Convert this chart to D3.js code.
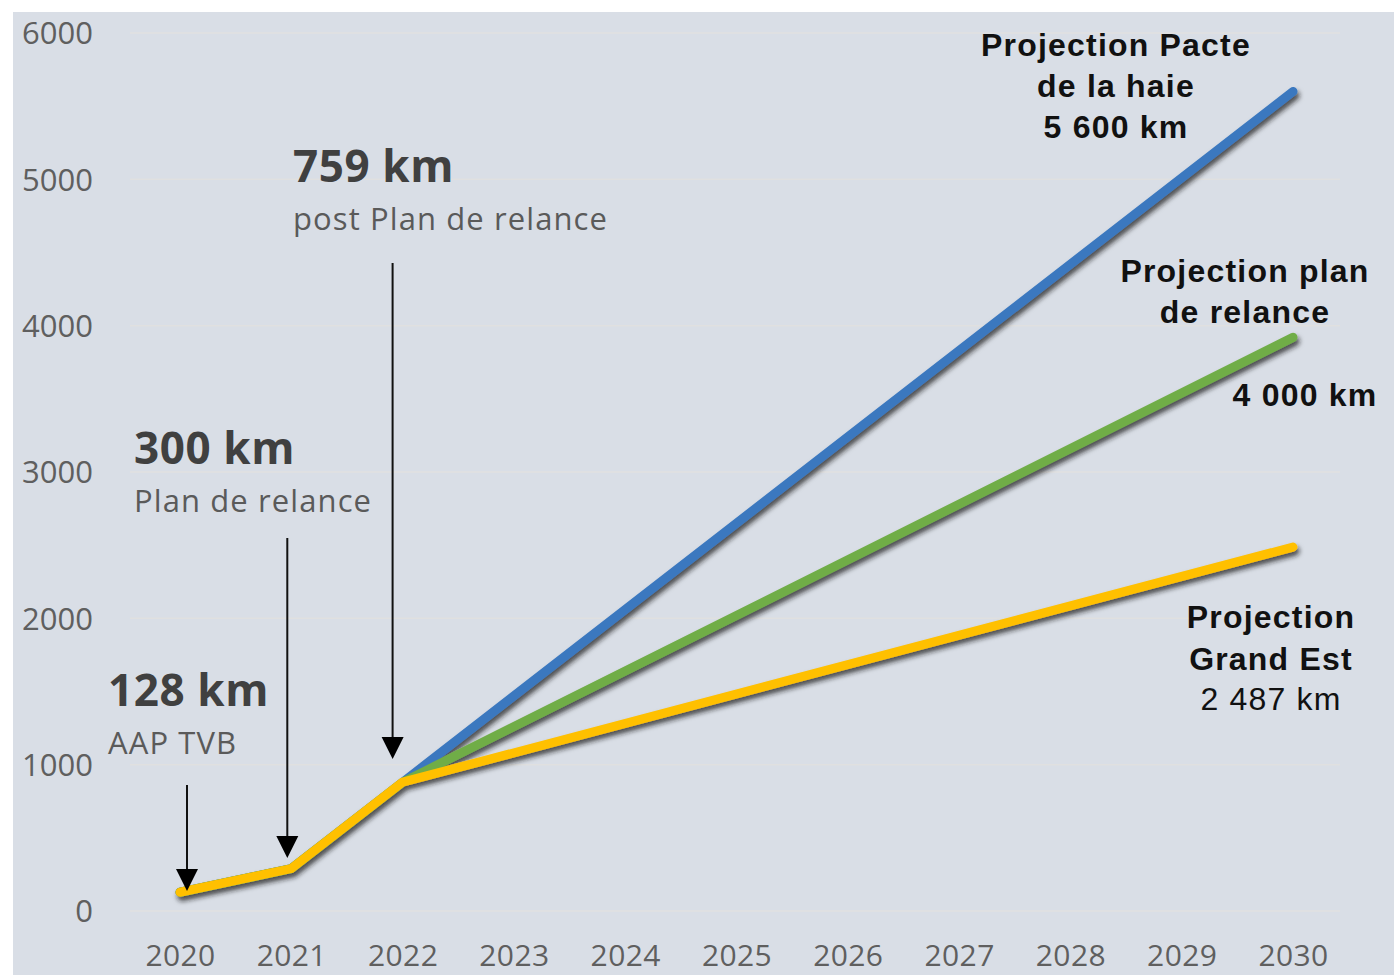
<!DOCTYPE html>
<html>
<head>
<meta charset="utf-8">
<script src="https://cdn.jsdelivr.net/npm/d3@7"></script>
<style>
  html, body { margin: 0; padding: 0; background: #ffffff; }
  svg { display: block; }
</style>
</head>
<body>
<svg id="chart" width="1394" height="975"></svg>
<script>
// ---- data ----
const years = [2020, 2021, 2022, 2023, 2024, 2025, 2026, 2027, 2028, 2029, 2030];
const yTicks = [0, 1000, 2000, 3000, 4000, 5000, 6000];
const realisedYears = [2020, 2021, 2022];
const realisedKm = [128, 290, 880];
const projectionEndYear = 2030;
const pacteEndKm = 5600;
const relanceEndKm = 3920;
const grandEstEndKm = 2487;
const seriesNames = ["Projection Pacte de la haie", "Projection plan de relance", "Projection Grand Est"];
const seriesColors = ["#3b78bf", "#70ad47", "#ffc000"];

// build series from the named arrays
const realised = realisedYears.map((y, i) => ({ year: y, km: realisedKm[i] }));
const series = [
  { name: seriesNames[0], color: seriesColors[0], points: realised.concat([{ year: projectionEndYear, km: pacteEndKm }]) },
  { name: seriesNames[1], color: seriesColors[1], points: realised.concat([{ year: projectionEndYear, km: relanceEndKm }]) },
  { name: seriesNames[2], color: seriesColors[2], points: realised.concat([{ year: projectionEndYear, km: grandEstEndKm }]) }
];

// annotations
const arrowAnnots = [
  { year: 2020, dx: 7, top: 785, tip: 891, big: "128 km", small: "AAP TVB", tx: 108, ty1: 706, ty2: 754 },
  { year: 2021, dx: -4, top: 538, tip: 858, big: "300 km", small: "Plan de relance", tx: 134, ty1: 464, ty2: 512 },
  { year: 2022, dx: -10, top: 263, tip: 759, big: "759 km", small: "post Plan de relance", tx: 293, ty1: 182, ty2: 230 }
];

const svg = d3.select("#chart");
const W = 1394, H = 975;

// background panel
svg.append("rect").attr("x", 0).attr("y", 0).attr("width", W).attr("height", H).attr("fill", "#ffffff");
svg.append("rect").attr("x", 13).attr("y", 12).attr("width", W - 13).attr("height", H - 12).attr("fill", "#d9dee6");

const x = d3.scaleLinear().domain([2020, 2030]).range([180, 1293]);
const y = d3.scaleLinear().domain([0, 6000]).range([911, 33]);

const defs = svg.append("defs");
const f = defs.append("filter").attr("id", "shadow").attr("x", "-10%").attr("y", "-10%").attr("width", "130%").attr("height", "130%");
f.append("feDropShadow").attr("dx", 2).attr("dy", 4).attr("stdDeviation", 2.4)
  .attr("flood-color", "#1a1a1a").attr("flood-opacity", 0.75);

// gridlines
svg.append("g").selectAll("line").data(yTicks).join("line")
  .attr("x1", 130).attr("x2", 1340)
  .attr("y1", d => y(d)).attr("y2", d => y(d))
  .attr("stroke", "#e4e2de").attr("stroke-width", 1.5).attr("opacity", 0.7);

// y axis labels
const yAxis = d3.axisLeft(y).tickValues(yTicks).tickSize(0).tickPadding(0).tickFormat(d3.format("d"));
const gy = svg.append("g").attr("transform", "translate(93,0)").call(yAxis);
gy.select(".domain").remove();
gy.selectAll("text").attr("font-family", "Open Sans").attr("font-size", 31).attr("fill", "#5f5f5f").attr("dy", "0.35em");

// x axis labels
const xAxis = d3.axisBottom(x).tickValues(years).tickSize(0).tickPadding(0).tickFormat(d3.format("d"));
const gx = svg.append("g").attr("transform", "translate(0,966)").call(xAxis);
gx.select(".domain").remove();
gx.selectAll("text").attr("font-family", "Open Sans").attr("font-size", 30).attr("letter-spacing", 0.4)
  .attr("fill", "#5f5f5f").attr("dy", "0");

// lines
const line = d3.line().x(d => x(d.year)).y(d => y(d.km));
svg.append("g").attr("filter", "url(#shadow)").selectAll("path").data(series).join("path")
  .attr("d", d => line(d.points))
  .attr("fill", "none")
  .attr("stroke", d => d.color)
  .attr("stroke-width", 9)
  .attr("stroke-linecap", "round")
  .attr("stroke-linejoin", "miter");

// arrows
const ag = svg.append("g");
arrowAnnots.forEach(a => {
  const ax = x(a.year) + a.dx;
  ag.append("line").attr("x1", ax).attr("x2", ax).attr("y1", a.top).attr("y2", a.tip - 18)
    .attr("stroke", "#111").attr("stroke-width", 2);
  ag.append("path").attr("d", `M${ax - 11},${a.tip - 22} L${ax + 11},${a.tip - 22} L${ax},${a.tip} Z`).attr("fill", "#000");
  ag.append("text").attr("x", a.tx).attr("y", a.ty1).text(a.big)
    .attr("font-family", "Open Sans").attr("font-weight", 700).attr("font-size", 44).attr("letter-spacing", 0.6).attr("fill", "#404040");
  ag.append("text").attr("x", a.tx).attr("y", a.ty2).text(a.small)
    .attr("font-family", "Open Sans").attr("font-size", 31).attr("letter-spacing", 1.1).attr("fill", "#5a5a5a");
});

// right-side labels
const rightLabels = [
  { cx: 1116, lines: [["Projection Pacte", 56, 700], ["de la haie", 97, 700], ["5 600 km", 138, 700]] },
  { cx: 1245, lines: [["Projection plan", 282, 700], ["de relance", 323, 700]] },
  { cx: 1305, lines: [["4 000 km", 406, 700]] },
  { cx: 1271, lines: [["Projection", 628, 700], ["Grand Est", 670, 700], ["2 487 km", 710, 400]] }
];
const rg = svg.append("g");
rightLabels.forEach(l => {
  l.lines.forEach(([t, by, w]) => {
    rg.append("text").attr("x", l.cx).attr("y", by).attr("text-anchor", "middle")
      .attr("font-family", "Liberation Sans, Arial, sans-serif").attr("font-weight", w)
      .attr("font-size", 32).attr("letter-spacing", 1.2).attr("fill", "#111").text(t);
  });
});
</script>
</body>
</html>
